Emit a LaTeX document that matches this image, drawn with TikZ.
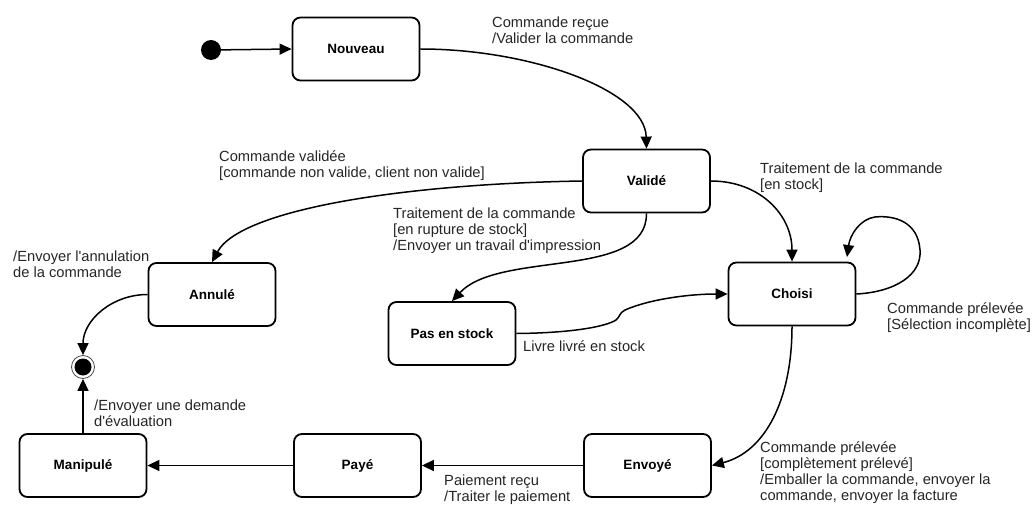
\documentclass[tikz,border=0pt]{standalone}
\usepackage{fontspec}
\setmainfont{Liberation Sans}
\usetikzlibrary{arrows.meta}
\definecolor{labelgray}{HTML}{262626}
\begin{document}
\begin{tikzpicture}[x=1pt,y=-1pt,
  state/.style={draw, line width=1.8pt, rounded corners=8pt, minimum width=127pt,
    minimum height=63pt, inner sep=0pt, font=\fontsize{13.5}{16}\selectfont\bfseries},
  tr/.style={line width=1.5pt, -{Triangle[length=12pt,width=11pt]}},
  lbl/.style={anchor=north west, inner sep=0pt, align=left, text=labelgray,
    font=\fontsize{14.7}{16}\selectfont}]

\fill[white] (0,0) rectangle (1035,505);
\useasboundingbox (0,0) rectangle (1035,505);

% states
\node[state] (nouveau) at (356,49)    {Nouveau};
\node[state] (valide)  at (646.5,181) {Validé};
\node[state] (choisi)  at (792,294)   {Choisi};
\node[state] (annule)  at (212,294.5) {Annulé};
\node[state] (pas)     at (452,333.5) {Pas en stock};
\node[state] (manip)   at (83,465.5)  {Manipulé};
\node[state] (paye)    at (357.5,465.5) {Payé};
\node[state] (envoye)  at (647.5,465.5) {Envoyé};

% initial and final pseudo-states
\node[circle, fill=black, minimum size=20pt, inner sep=0pt] (init) at (211,50) {};
\node[circle, draw=black!70, line width=0.8pt, minimum size=23pt, inner sep=0pt] (final) at (83,367) {};
\fill[black] (final.center) circle (8.5);

% transitions
\draw[tr] (init) -- (nouveau.west);
\draw[tr] (nouveau.east) .. controls (530,49) and (645,90) .. (valide.north);
\draw[tr] (valide.west) .. controls (400,184) and (240,210) .. (annule.north);
\draw[tr] (valide.south) .. controls (647,280) and (500,250) .. (pas.north);
\draw[tr] (valide.east) .. controls (760,181) and (792,215) .. (choisi.north);
\coordinate (loopend) at (847,257);
\draw[tr] (choisi.east) .. controls (895,292) and (922,275) .. (920,250)
  .. controls (918,222) and (895,215) .. (875,217)
  .. controls (860,219) and (850,235) .. (loopend);
\draw[tr] (pas.east) .. controls (570,333) and (605,327) .. (616,320)
  .. controls (620,317) and (619,313) .. (625,310)
  .. controls (650,299) and (690,294) .. (choisi.west);
\draw[tr] (choisi.south) .. controls (792,400) and (765,452) .. (envoye.east);
\draw[tr] (envoye.west) -- (paye.east);
\draw[tr] (paye.west) -- (manip.east);
\draw[tr] (manip.north) -- (final.south);
\draw[tr] (annule.west) .. controls (111.7,294.5) and (83,320.4) .. (final.north);

% transition labels
\node[lbl] (l1) at (492,17)  {Commande reçue\\/Valider la commande};
\node[lbl] (l2) at (219,150) {Commande validée\\[0pt][commande non valide, client non valide]};
\node[lbl] (l3) at (393,208) {Traitement de la commande\\[0pt][en rupture de stock]\\/Envoyer un travail d\textquotesingle impression};
\node[lbl] (l4) at (760,163) {Traitement de la commande\\[0pt][en stock]};
\node[lbl] (l5) at (887,302) {Commande prélevée\\[0pt][Sélection incomplète]};
\node[lbl] (l6) at (13,251)  {/Envoyer l\textquotesingle annulation\\de la commande};
\node[lbl] (l7) at (94,400)  {/Envoyer une demande\\d\textquotesingle évaluation};
\node[lbl] (l8) at (523,340) {Livre livré en stock};
\node[lbl] (l9) at (444,475) {Paiement reçu\\/Traiter le paiement};
\node[lbl] (l10) at (760,441) {Commande prélevée\\[0pt][complètement prélevé]\\/Emballer la commande, envoyer la\\commande, envoyer la facture};
\end{tikzpicture}
\end{document}
